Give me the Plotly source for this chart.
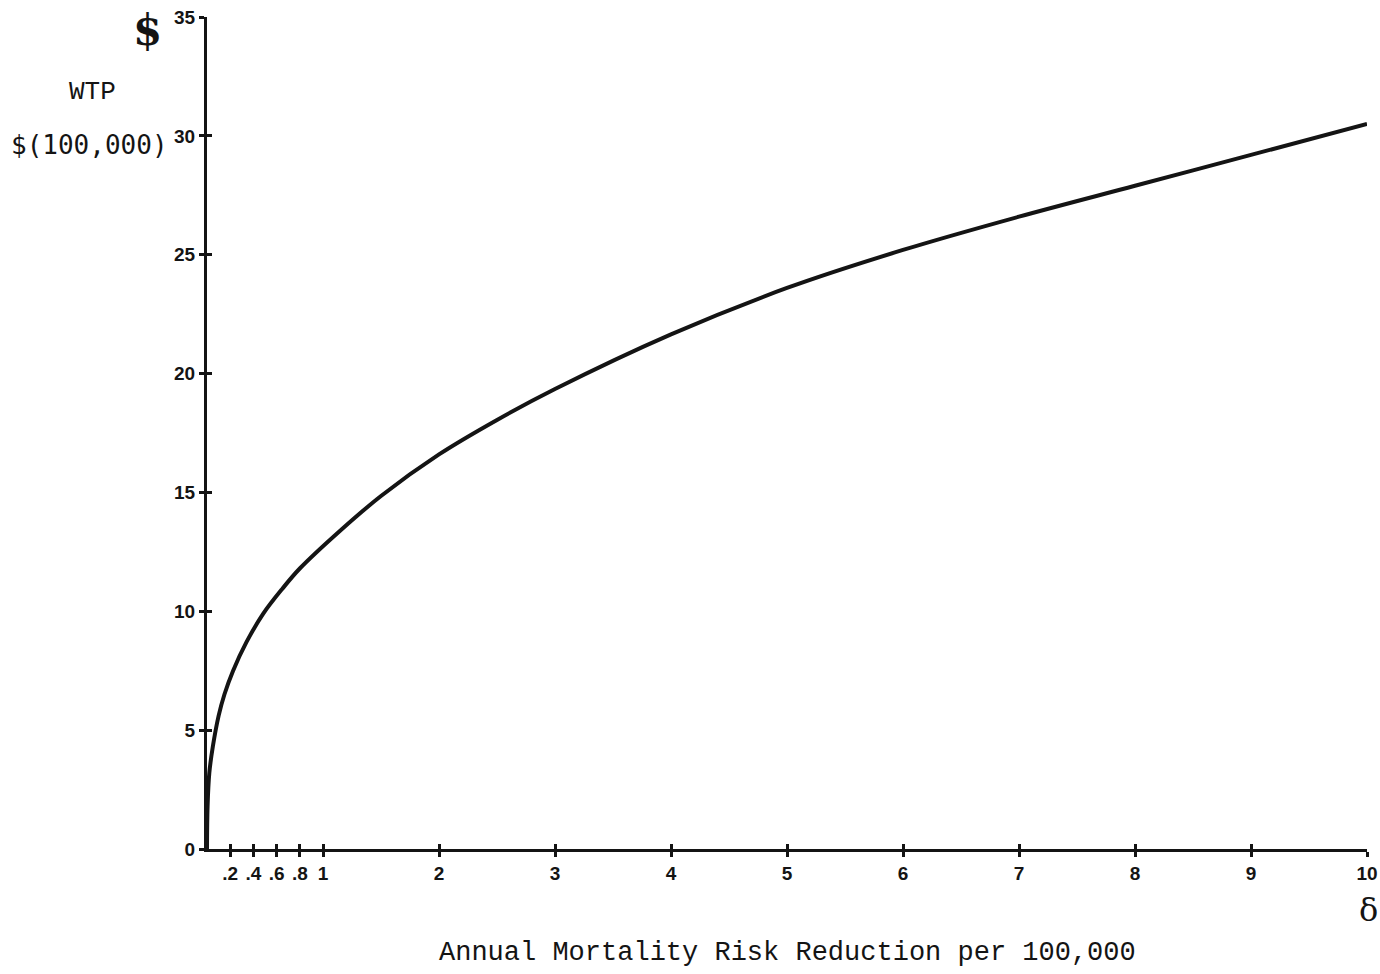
import plotly.graph_objects as go

# Data
risk_reduction = [0, 0.005, 0.02, 0.05, 0.1, 0.15, 0.225, 0.34, 0.485, 0.65, 0.8, 1.15, 1.5,
                  2.0, 2.5, 3.0, 4.0, 5.0, 6.0, 7.0, 8.0, 9.0, 10.0]
wtp = [0, 1.8, 3.2, 4.3, 5.6, 6.5, 7.5, 8.7, 9.9, 10.95, 11.8, 13.4, 14.85,
       16.6, 18.05, 19.35, 21.65, 23.6, 25.2, 26.6, 27.9, 29.2, 30.5]

x_tickvals = [0.2, 0.4, 0.6, 0.8, 1, 2, 3, 4, 5, 6, 7, 8, 9, 10]
x_ticktext = [".2", ".4", ".6", ".8", "1", "2", "3", "4", "5", "6", "7", "8", "9", "10"]
y_tickvals = [0, 5, 10, 15, 20, 25, 30, 35]
y_ticktext = ["0", "5", "10", "15", "20", "25", "30", "35"]

INK = "#141414"
tickfont = dict(family="Liberation Sans", size=19, color=INK, weight="bold")

fig = go.Figure()
fig.add_trace(go.Scatter(
    x=risk_reduction, y=wtp, mode="lines",
    line=dict(color=INK, width=4, shape="spline", smoothing=1.0),
    cliponaxis=False, showlegend=False, hoverinfo="skip",
))

axis_common = dict(showgrid=False, zeroline=False, showline=True, automargin=False,
                   linecolor=INK, linewidth=3, tickcolor=INK, tickwidth=2.5)

fig.update_layout(
    width=1380, height=974,
    margin=dict(l=207, r=13, t=17, b=125),
    paper_bgcolor="white", plot_bgcolor="white",
    xaxis=dict(range=[0, 10], tickvals=x_tickvals, ticktext=x_ticktext,
               ticks="outside", ticklen=5, tickfont=tickfont, **axis_common),
    yaxis=dict(range=[0, 35], tickvals=y_tickvals, ticktext=y_ticktext,
               ticks="outside", ticklen=5, tickfont=tickfont, **axis_common),
    xaxis2=dict(range=[0, 10], overlaying="x", tickvals=x_tickvals,
                showticklabels=False, ticks="inside", ticklen=5, side="bottom",
                **axis_common),
    yaxis2=dict(range=[0, 35], overlaying="y", tickvals=y_tickvals[1:],
                showticklabels=False, ticks="inside", ticklen=5, side="left",
                **axis_common),
)
# invisible trace to activate overlay axes
fig.add_trace(go.Scatter(x=[None], y=[None], xaxis="x2", yaxis="y2",
                         showlegend=False, hoverinfo="skip"))

mono = "Liberation Mono"
ann = dict(xref="paper", yref="paper", showarrow=False, xanchor="center", yanchor="middle")
fig.add_annotation(text="$", x=-0.0517, y=0.984,
                   font=dict(family="DejaVu Serif", size=42, color=INK, weight="bold"), **ann)
fig.add_annotation(text="WTP", x=-0.0991, y=0.910,
                   font=dict(family=mono, size=26, color=INK), **ann)
fig.add_annotation(text="$(100,000)", x=-0.1009, y=0.846,
                   font=dict(family="DejaVu Sans Mono", size=26, color=INK), **ann)
fig.add_annotation(text="Annual Mortality Risk Reduction per 100,000",
                   x=0.5002, y=-0.125, font=dict(family=mono, size=27, color=INK), **ann)
fig.add_annotation(text="δ", x=1.0009, y=-0.0733,
                   font=dict(family="DejaVu Serif", size=32, color=INK), **ann)

fig.write_html("out.html", config={"displayModeBar": False},
               post_script="document.body.style.margin='0';")
